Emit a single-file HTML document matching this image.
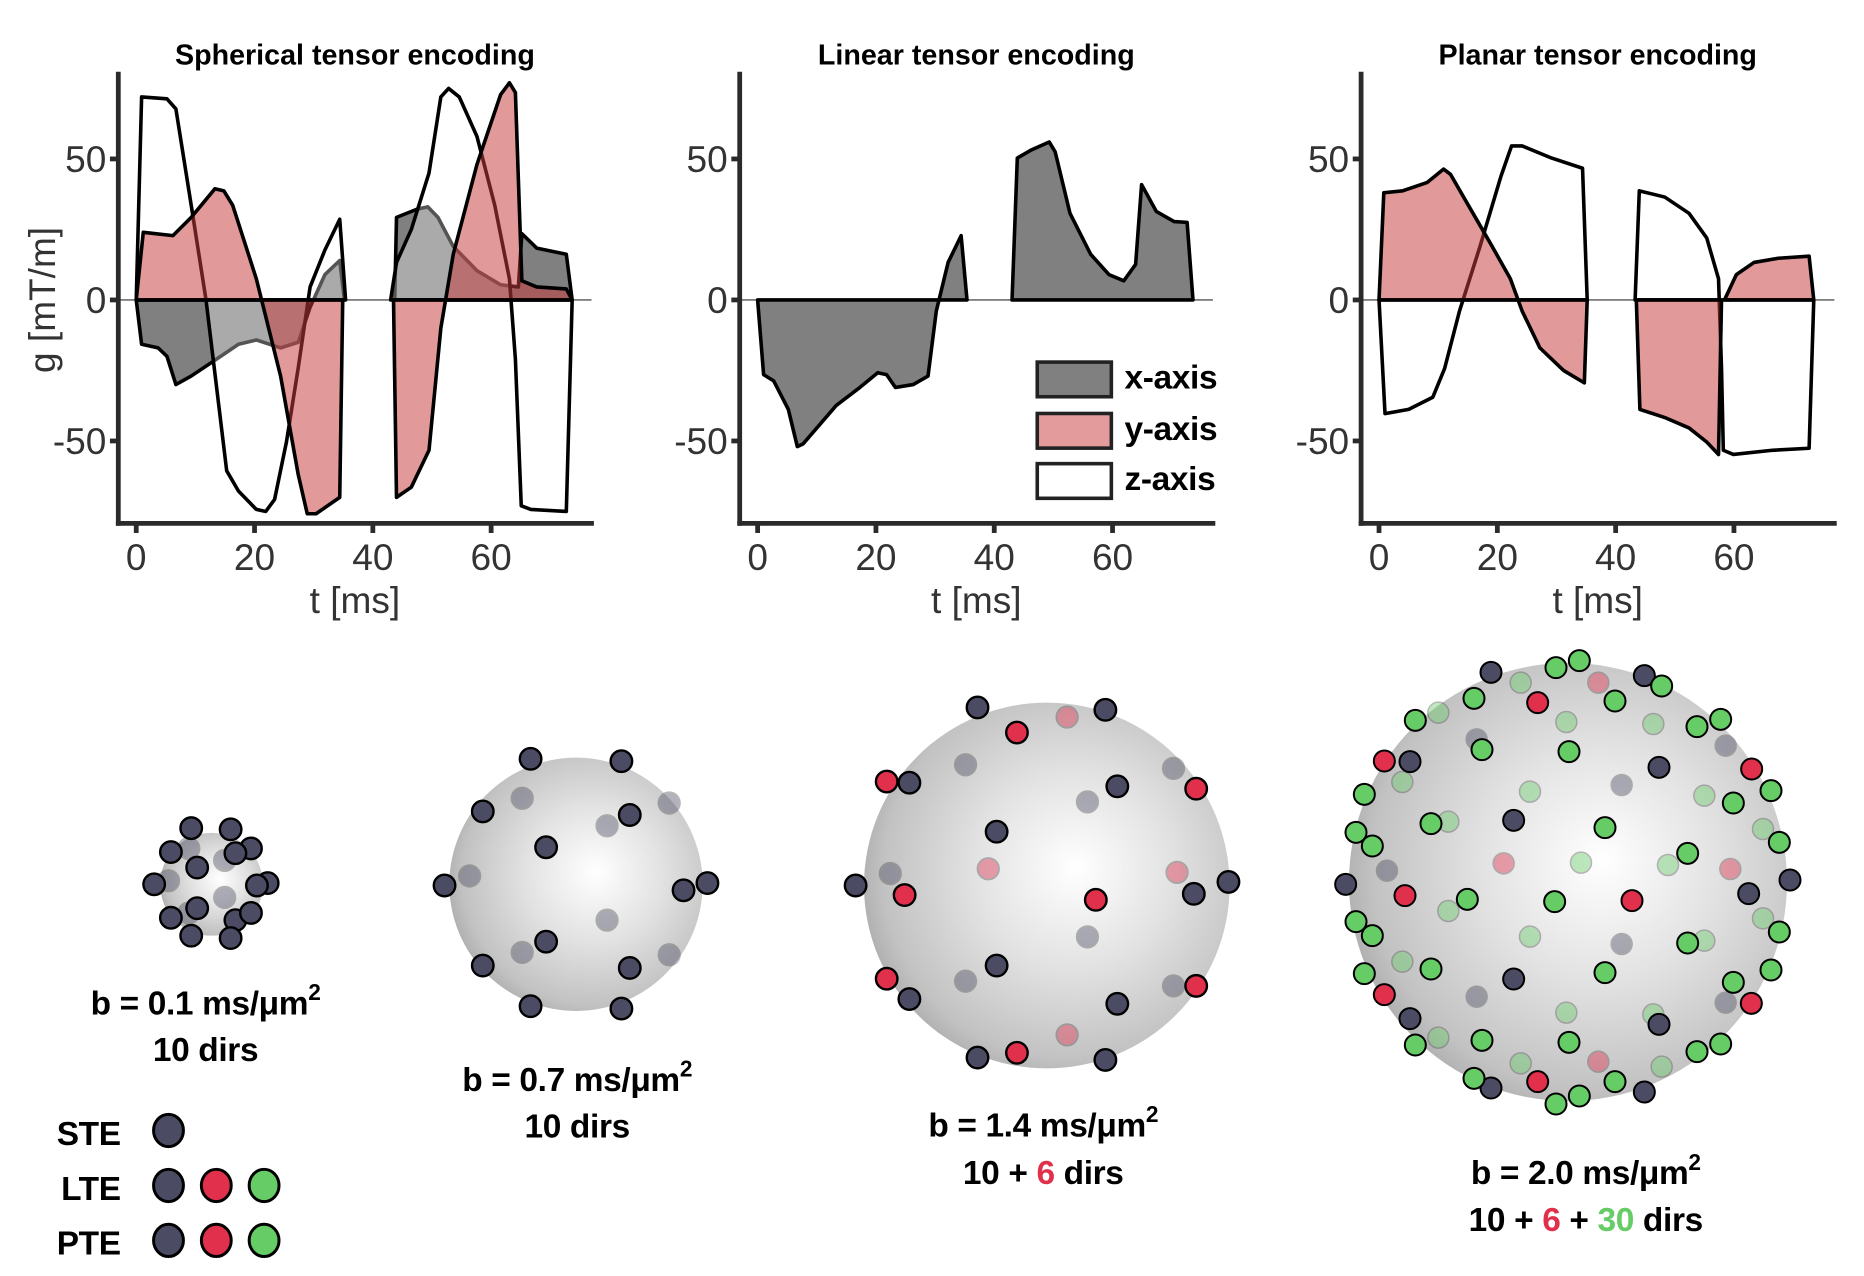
<!DOCTYPE html>
<html><head><meta charset="utf-8">
<style>
html,body{margin:0;padding:0;background:#fff;}
svg{display:block;}
.tk{font-family:"Liberation Sans",sans-serif;font-size:31px;fill:#333;}
.ttl{font-family:"Liberation Sans",sans-serif;font-size:24px;font-weight:bold;fill:#000;}
.cap{font-family:"Liberation Sans",sans-serif;font-size:28px;font-weight:bold;fill:#000;letter-spacing:-0.3px;}
</style></head>
<body>
<svg id="fig" width="1864" height="1276" viewBox="0 0 1864 1276" xmlns="http://www.w3.org/2000/svg">
<defs>
<radialGradient id="sph" cx="0.56" cy="0.47" r="0.6" fx="0.58" fy="0.45">
<stop offset="0" stop-color="#ffffff"/>
<stop offset="0.45" stop-color="#e2e2e2"/>
<stop offset="0.85" stop-color="#c2c2c2"/>
<stop offset="1" stop-color="#a8a8a8"/>
</radialGradient>
</defs>
<g id="topg" transform="scale(1.195)"></g>
<g id="bot" transform="scale(1.195)"></g>
<g id="bot4"></g>
</svg>
<script>
// ---------- chart data (t in ms, g in mT/m) ----------
const titles = ["Spherical tensor encoding","Linear tensor encoding","Planar tensor encoding"];
const xTicks = [0,20,40,60];
const yTicks = [50,0,-50];
const yTickLabels = ["50","0","-50"];
// Spherical
const steX_t = [0,0.9,3.7,5.2,6.7,9.3,13.3,17.3,20.3,24.4,27.4,29.4,31.9,34.4,35.2, 43.7,44,47.5,49.3,51,53.6,57.6,61.6,64.6,65.2,67.7,72.7,73.7];
const steX_g = [0,-15.7,-17,-20,-30,-27,-21.4,-15.7,-14.2,-17,-15,-2.6,9,14,0, 0,29.3,32.2,33,29.3,19,10.4,5.4,4.6,23.5,18.4,16.2,0];
const steY_t = [0,1.2,6.2,9.3,13.3,14.8,16.3,20.3,24.4,27.4,28.9,30.4,34.4,34.9, 43.5,44,46.5,49.5,51.5,53.6,57.6,61.6,63.1,64.1,65.2,67.7,72.7,73.7];
const steY_g = [0,24,22.8,29.3,39.4,38.7,33.6,7.5,-27,-62,-75.8,-75.8,-70,0, 0,-70,-66.4,-53.3,-10,16.2,48,72.8,77,73.5,6.8,4.6,3.9,0];
const steZ_t = [0,0.9,5.2,6.7,9.3,11.8,15.3,17.3,20.3,21.9,23.4,25.4,27.4,29.4,31.9,34.4,35.4, 43,44,46.5,49.5,51.5,52.8,54.6,57.6,60.6,63.1,64.1,65.1,66.7,72.7,73.7];
const steZ_g = [0,72,71.3,67.7,33.6,0,-60.6,-67.8,-74.3,-75,-70.7,-50.4,-24,4.6,17.7,28.6,0, 0,13.3,25,45,72,75,72,58,33.6,7.5,-21,-73,-74.3,-75,0];
// Linear
const lteX_t = [0,1,2.7,5.2,6.7,7.7,13.3,17.3,20.3,21.8,23.3,26.3,28.8,30.2,32.2,34.4,35.4, 43,43.9,46.3,49.3,50.3,52.8,56.3,59.4,61.9,63.9,64.9,67.4,70.4,72.6,73.6];
const lteX_g = [0,-26.5,-28.7,-38.8,-52,-51,-37.4,-31,-25.8,-26.5,-31,-30,-27,-4,13.3,22.8,0, 0,50.3,53.2,56,52.5,30.7,16.2,9,6.8,12.6,40.9,31.4,27.8,27.5,0];
// Planar
const pteY_t = [0,0.8,4,8.1,10.9,12.1,15.1,19.1,22.2,24.2,27.2,31.2,34.7,35.2, 43.5,44.1,48.3,52.4,55.4,57.4,57.9, 58.4,60.4,63.4,67.5,72.7,73.5];
const pteY_g = [0,38,38.7,41.6,46.4,44.5,33.6,19.1,7.5,-4,-17,-25,-29.4,0, 0,-38.8,-41.7,-45.4,-50.4,-54.8,0, 0,9,13.3,14.8,15.5,0];
const pteZ_t = [0,1,5,9.1,11.1,13.6,17.1,20.6,22.4,24.2,29.2,34.4,35.2, 43.3,44,48.3,52.4,55.4,57.4,57.9,58.2,59.9,66.5,72.7,73.5];
const pteZ_g = [0,-40.3,-38.8,-34.5,-24.3,-4,19.1,43.8,54.6,54.6,50.3,46.7,0, 0,38.7,36.5,30.7,22,7.5,-24.3,-53.3,-54.8,-53.3,-52.6,0];

const NS="http://www.w3.org/2000/svg";
function mk(tag,attrs,parent){const e=document.createElementNS(NS,tag);for(const k in attrs)e.setAttribute(k,attrs[k]);parent.appendChild(e);return e;}
const topG=document.getElementById('topg');
function tx(p,t){return 114+520*p+t*4.95;}
function gy(g){return 251-g*2.36;}

function series(p,ts,gs,fill,fop,name){
  let d="";
  let segs=[],cur=[];
  for(let i=0;i<ts.length;i++){
    cur.push([ts[i],gs[i]]);
    if(gs[i]===0 && cur.length>1 && (i===ts.length-1 || gs[i+1]===0)){segs.push(cur);cur=[];}
  }
  if(cur.length>1)segs.push(cur);
  segs.forEach(s=>{d+="M"+s.map(q=>tx(p,q[0]).toFixed(1)+","+gy(q[1]).toFixed(1)).join(" L")+" Z ";});
  const e=mk('path',{d:d,fill:fill,'fill-opacity':fop,stroke:'#000','stroke-width':3,'stroke-linejoin':'round'},topG);
  
  
}

for(let p=0;p<3;p++){
  const ox=520*p;
  const t=mk('text',{x:297+ox,y:54,'text-anchor':'middle',class:'ttl'},topG);t.textContent=titles[p];
  
  
  const z=mk('line',{x1:99+ox,x2:495+ox,y1:gy(0),y2:gy(0),stroke:'#555','stroke-width':1.2},topG);
  
  
}
series(0,steX_t,steX_g,'#808080',1,'ste-x-axis-area');
series(0,steZ_t,steZ_g,'#ffffff',0.33,'ste-z-axis-area');
series(0,steY_t,steY_g,'#c83c3c',0.52,'ste-y-axis-area');
series(1,lteX_t,lteX_g,'#808080',1,'lte-x-axis-area');
series(2,pteZ_t,pteZ_g,'#ffffff',0.2,'pte-z-axis-area');
series(2,pteY_t,pteY_g,'#c83c3c',0.52,'pte-y-axis-area');

for(let p=0;p<3;p++){
  const ox=520*p;
  const ya=mk('line',{x1:99+ox,x2:99+ox,y1:60,y2:440,stroke:'#2a2a2a','stroke-width':4},topG);
  
  
  const xa=mk('line',{x1:97+ox,x2:497+ox,y1:438,y2:438,stroke:'#2a2a2a','stroke-width':4},topG);
  
  
  yTicks.forEach((v,i)=>{
    mk('line',{x1:92+ox,x2:99+ox,y1:gy(v),y2:gy(v),stroke:'#2a2a2a','stroke-width':4},topG);
    const l=mk('text',{x:89+ox,y:gy(v)+11,'text-anchor':'end',class:'tk'},topG);l.textContent=yTickLabels[i];
    
    
  });
  xTicks.forEach(v=>{
    mk('line',{x1:tx(p,v),x2:tx(p,v),y1:438,y2:446,stroke:'#2a2a2a','stroke-width':4},topG);
    const l=mk('text',{x:tx(p,v),y:477,'text-anchor':'middle',class:'tk'},topG);l.textContent=v;
    
    
  });
  const xl=mk('text',{x:297+ox,y:513,'text-anchor':'middle',class:'tk','font-size':35},topG);xl.textContent="t [ms]";
  
  
}
const yl=mk('text',{x:0,y:0,'text-anchor':'middle',class:'tk','font-size':34,transform:'translate(46,251) rotate(-90)'},topG);yl.textContent="g [mT/m]";



const legNames=["x-axis","y-axis","z-axis"],legFill=["#808080","#e49b9b","#ffffff"],legY=[303,346,388];
legNames.forEach((n,i)=>{
  const r=mk('rect',{x:868,y:legY[i],width:62,height:29,fill:legFill[i],stroke:'#222','stroke-width':3},topG);
  
  
  const t=mk('text',{x:941,y:legY[i]+22,class:'cap','font-size':25},topG);t.textContent=n;
  
  
});

// ---------- spheres ----------
const COL={d:'#4b4c63',r:'#e0304c',g:'#66cc66'};
const bot=document.getElementById('bot');
function sphere(parent,cx,cy,r,name){
  const c=mk('circle',{cx:cx,cy:cy,r:r,fill:'url(#sph)'},parent);
  
  
}
function dot(parent,x,y,col,back,rr){
  const c=mk('circle',{cx:x,cy:y,r:rr,fill:COL[col],stroke:back?'#555':'#000','stroke-width':back?1.5:2,opacity:back?0.42:1},parent);
  
  
}
sphere(bot,177,740,43,'sphere-b01');
[[158,710],[188,720],[141,737],[188,751],[158,764]].forEach(p=>dot(bot,p[0],p[1],'d',1,9));
[[160,693],[193,694],[143,713],[210,710],[197,714],[165,726],[129,740],[224,739],[215,741],[165,760],[143,768],[197,770],[210,764],[160,783],[193,785]].forEach(p=>dot(bot,p[0],p[1],'d',0,9));
sphere(bot,482,740,106,'sphere-b07');
[[437,668],[560,672],[508,691],[393,733],[508,770],[437,797],[560,799]].forEach(p=>dot(bot,p[0],p[1],'d',1,9));
[[444,635],[520,637],[404,679],[527,682],[457,709],[372,741],[592,739],[572,745],[457,788],[404,808],[527,810],[444,842],[520,844]].forEach(p=>dot(bot,p[0],p[1],'d',0,9));
sphere(bot,876,741,153,'sphere-b14');
[[808,640],[982,643],[910,671],[910,784],[808,821],[982,825],[745,731]].forEach(p=>dot(bot,p[0],p[1],'d',1,9));
[[893,600],[827,727],[985,730],[893,866]].forEach(p=>dot(bot,p[0],p[1],'r',1,9));
[[818,592],[925,594],[935,658],[834,696],[1028,738],[999,748],[834,808],[935,840],[818,885],[925,887],[716,741],[761,655],[761,836]].forEach(p=>dot(bot,p[0],p[1],'d',0,9));
[[851,613],[1001,660],[917,753],[1001,825],[851,881],[742,654],[757,749],[742,819]].forEach(p=>dot(bot,p[0],p[1],'r',0,9));
const b4=document.getElementById('bot4');
sphere(b4,1568,882,219,'sphere-b20');
const Z=p=>[1330+p[0]/3,650+p[1]/3];
const s4lg=[[572,98],[325,188],[709,216],[970,222],[217,396],[600,425],[355,515],[1123,437],[1299,537],[753,638],[1014,645],[355,783],[1299,805],[600,860],[1123,872],[217,935],[325,1163],[709,1088],[970,1093],[572,1240],[995,1250]];
const s4lk=[[440,268],[1187,287],[875,405],[171,662],[875,882],[440,1040],[1187,1058]];
const s4lr=[[805,98],[521,640],[1201,657],[805,1235]];
const s4d=[[483,67],[943,77],[240,335],[987,352],[551,511],[47,703],[1380,690],[1256,731],[551,987],[240,1106],[987,1123],[483,1314],[943,1326]];
const s4r=[[623,158],[163,333],[1265,357],[225,737],[906,752],[1264,1060],[163,1034],[623,1295]];
const s4g=[[678,53],[748,32],[432,145],[855,153],[256,211],[1172,208],[1101,230],[456,299],[717,305],[103,433],[1323,422],[1210,459],[303,521],[825,533],[78,547],[127,588],[1348,577],[1073,610],[412,748],[674,755],[78,815],[127,857],[1348,846],[1073,879],[103,971],[303,957],[825,968],[1323,960],[1210,997],[256,1185],[456,1171],[717,1177],[1101,1205],[1172,1182],[432,1285],[855,1295],[748,1338],[678,1362],[995,108]];
s4lg.forEach(p=>{const q=Z(p);dot(b4,q[0],q[1],'g',1,10.5);});
s4lk.forEach(p=>{const q=Z(p);dot(b4,q[0],q[1],'d',1,10.5);});
s4lr.forEach(p=>{const q=Z(p);dot(b4,q[0],q[1],'r',1,10.5);});
s4d.forEach(p=>{const q=Z(p);dot(b4,q[0],q[1],'d',0,10.5);});
s4r.forEach(p=>{const q=Z(p);dot(b4,q[0],q[1],'r',0,10.5);});
s4g.forEach(p=>{const q=Z(p);dot(b4,q[0],q[1],'g',0,10.5);});

function cap(x,y,html,name){
  const t=mk('text',{x:x,y:y,'text-anchor':'middle',class:'cap'},bot);
  t.innerHTML=html;
  
  
}
const SUP='<tspan font-size="19" dy="-12">2</tspan>';
cap(172,849,'b = 0.1 ms/μm'+SUP,'caption-b01');
cap(172,888,'10 dirs','caption-dirs-b01');
cap(483,913,'b = 0.7 ms/μm'+SUP,'caption-b07');
cap(483,952,'10 dirs','caption-dirs-b07');
cap(873,951,'b = 1.4 ms/μm'+SUP,'caption-b14');
cap(873,991,'10 + <tspan fill="#e0304c">6</tspan> dirs','caption-dirs-b14');
cap(1327,991,'b = 2.0 ms/μm'+SUP,'caption-b20');
cap(1327,1030,'10 + <tspan fill="#e0304c">6</tspan> + <tspan fill="#66cc66">30</tspan> dirs','caption-dirs-b20');

const encNames=["STE","LTE","PTE"],encY=[946,992,1038],encCols=[["d"],["d","r","g"],["d","r","g"]];
encNames.forEach((n,i)=>{
  const t=mk('text',{x:101,y:encY[i]+12,'text-anchor':'end',class:'cap','font-size':33},bot);t.textContent=n;
  
  
  encCols[i].forEach((c,j)=>{
    const e=mk('ellipse',{cx:141+40*j,cy:encY[i],rx:12.5,ry:13.5,fill:COL[c],stroke:'#000','stroke-width':2.5},bot);
    
    
  });
});
</script>
</body></html>
